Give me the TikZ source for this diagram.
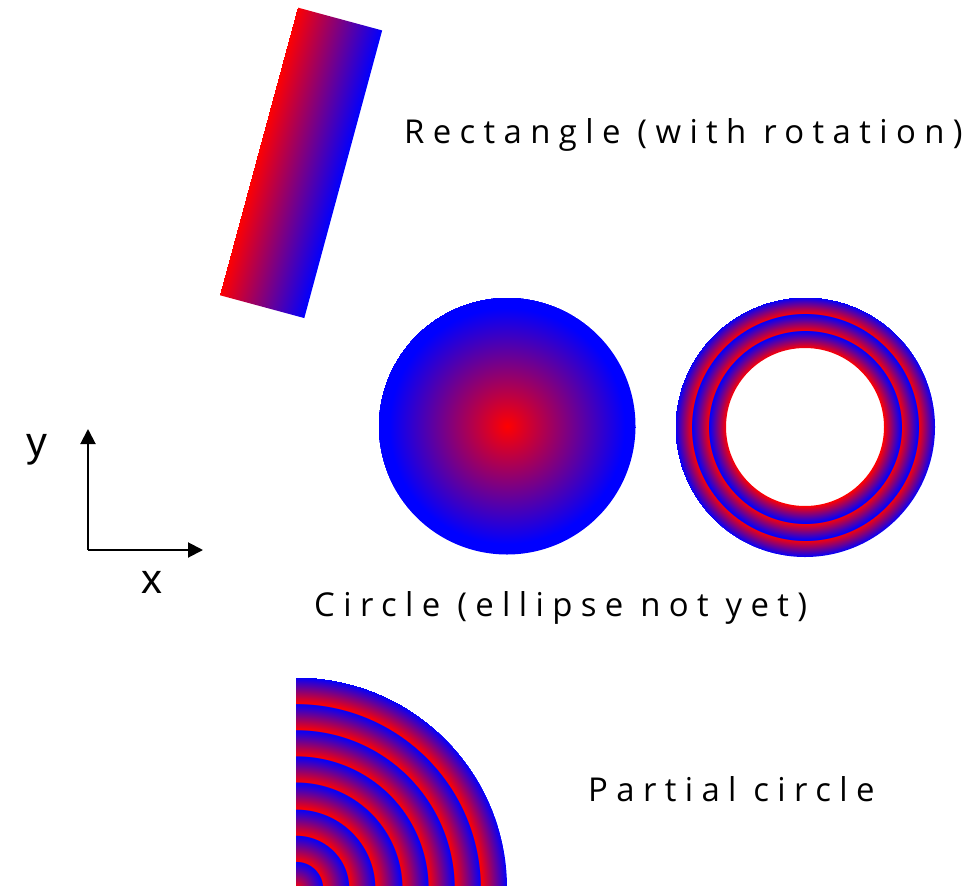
\documentclass[tikz,border=0pt]{standalone}
\usepackage{fontspec}
\usetikzlibrary{arrows.meta}
\newfontfamily\labelfont[LetterSpace=25.5, Ligatures={NoCommon,NoDiscretionary,NoContextual}]{Open Sans}
\newfontfamily\axisfont{Liberation Sans}
\pgfdeclareradialshading{disksh}{\pgfpoint{0bp}{0bp}}{color(0bp)=(red); color(118bp)=(blue); color(129bp)=(blue)}
\pgfdeclareradialshading{ringsh}{\pgfpoint{0bp}{0bp}}{color(0bp)=(red); color(79bp)=(red); color(96bp)=(blue); color(96.01bp)=(red); color(113bp)=(blue); color(113.01bp)=(red); color(130bp)=(blue)}
\pgfdeclareradialshading{quartersh}{\pgfpoint{0bp}{0bp}}{color(0bp)=(red); color(26.375bp)=(blue); color(26.385bp)=(red); color(52.75bp)=(blue); color(52.76bp)=(red); color(79.125bp)=(blue); color(79.135bp)=(red); color(105.5bp)=(blue); color(105.51bp)=(red); color(131.875bp)=(blue); color(131.885bp)=(red); color(158.25bp)=(blue); color(158.26bp)=(red); color(184.625bp)=(blue); color(184.635bp)=(red); color(211bp)=(blue)}
\pgfdeclarehorizontalshading{rectsh}{298bp}{color(0bp)=(red); color(88bp)=(blue)}
\tikzset{
  caption/.style={anchor=base west, inner sep=0, font=\labelfont\fontsize{33}{38}\selectfont},
  axislabel/.style={anchor=base, inner sep=0, font=\axisfont\fontsize{42}{48}\selectfont},
  axisline/.style={line width=2bp, -{Triangle[length=15bp, width=15bp]}},
  shadebox/.style={inner sep=0, outer sep=0}
}
\begin{document}
\begin{tikzpicture}[x=1bp, y=-1bp]
\useasboundingbox (0,0) rectangle (971,886);
% rotated rectangle
\node[shadebox, rotate=-15.15] (rect) at (300.75,162.75) {\pgfuseshading{rectsh}};
\node[caption] (recttext) at (404,143) {Rectangle (with rotation)};
% disk
\coordinate (diskc) at (507,426);
\begin{scope}
  \clip (diskc) circle[radius=128.5];
  \node[shadebox] (disk) at (diskc) {\pgfuseshading{disksh}};
\end{scope}
% ring
\coordinate (ringc) at (805,427);
\begin{scope}[even odd rule]
  \clip (ringc) circle[radius=130] (ringc) circle[radius=79];
  \node[shadebox] (ring) at (ringc) {\pgfuseshading{ringsh}};
\end{scope}
\node[caption] (circtext) at (314,616) {Circle (ellipse not yet)};
% partial circle
\coordinate (quarc) at (296,888);
\begin{scope}
  \clip (296,600) rectangle (560,886);
  \clip (quarc) circle[radius=211];
  \node[shadebox] (quarter) at (quarc) {\pgfuseshading{quartersh}};
\end{scope}
\node[caption] (quartext) at (588,801) {Partial circle};
% axes
\coordinate (origin) at (88,550);
\coordinate (xtip) at (203,550);
\coordinate (ytip) at (88,429);
\draw[axisline] (origin) -- (xtip);
\draw[axisline] (origin) -- (ytip);
\node[axislabel] (ylab) at (36.5,456) {y};
\node[axislabel] (xlab) at (152,593) {x};
\end{tikzpicture}
\end{document}
